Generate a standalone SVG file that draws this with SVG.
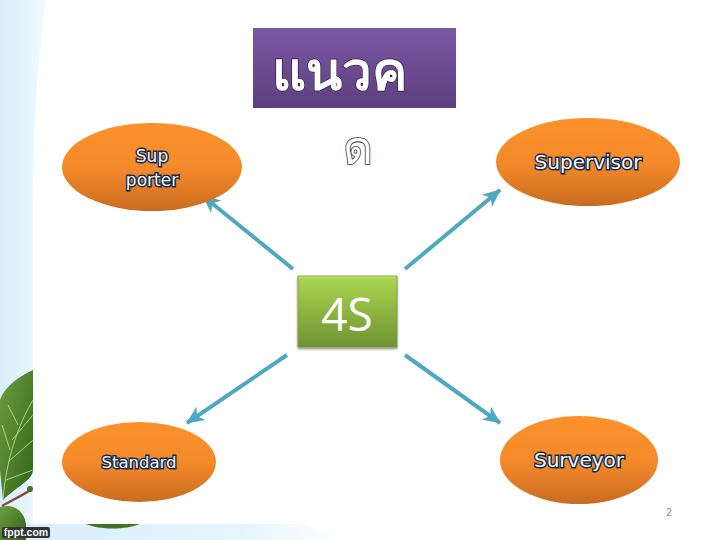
<svg xmlns="http://www.w3.org/2000/svg" width="720" height="540" viewBox="0 0 720 540">
<style>
.lbl{font-family:"DejaVu Sans","Liberation Sans",sans-serif;font-size:17px;fill:#f2f8fd;stroke:#10294d;stroke-width:2.8px;paint-order:stroke;text-anchor:middle}
.thai{font-family:"Noto Sans","DejaVu Sans","Liberation Sans",sans-serif;text-anchor:middle}
.arrow{stroke:#4fa8c2;stroke-width:4;fill:none;marker-end:url(#ah)}
.leaf{fill:url(#leafG)}
.vein{stroke:#b4cf86;stroke-width:1;fill:none}
</style>
<defs>
<linearGradient id="org" x1="0" y1="0" x2="0" y2="1"><stop offset="0" stop-color="#fc912c"/><stop offset=".5" stop-color="#f58a2a"/><stop offset="1" stop-color="#c96c20"/></linearGradient>
<linearGradient id="pur" x1="0" y1="0" x2="0" y2="1"><stop offset="0" stop-color="#7d58a5"/><stop offset="1" stop-color="#5c3f7e"/></linearGradient>
<linearGradient id="grn" x1="0" y1="0" x2="0" y2="1"><stop offset="0" stop-color="#cfe675"/><stop offset=".04" stop-color="#a9d44f"/><stop offset="1" stop-color="#6f9232"/></linearGradient>
<linearGradient id="sky" x1="0" y1="0" x2="1" y2="0"><stop offset="0" stop-color="#d6eefb"/><stop offset="1" stop-color="#f3fafe"/></linearGradient>
<linearGradient id="band" x1="0" y1="0" x2="1" y2="0"><stop offset="0" stop-color="#d6eefb"/><stop offset=".7" stop-color="#e6f5fc"/><stop offset="1" stop-color="#ffffff"/></linearGradient>
<linearGradient id="leafG" x1="0" y1="0" x2="1" y2="1"><stop offset="0" stop-color="#6f9c3f"/><stop offset="1" stop-color="#2f6418"/></linearGradient>
<filter id="sh" x="-10%" y="-10%" width="120%" height="125%"><feDropShadow dx="0" dy="1.5" stdDeviation="1.2" flood-color="#000" flood-opacity=".5"/></filter>
<marker id="ah" markerUnits="userSpaceOnUse" markerWidth="20" markerHeight="20" refX="17" refY="10" orient="auto"><path d="M0 2 L18 10 L0 18 L5 10 Z" fill="#4fa8c2"/></marker>
</defs>
<g id="background">
<rect width="720" height="540" fill="#ffffff"/>
<path d="M0 0H46C38 60 33 120 33 200V530H0Z" fill="url(#sky)"/>
<path d="M33 524H300C320 530 335 536 345 540H0V524Z" fill="url(#band)"/>
<path d="M33 370C15 378 3 390 0 400V470Q2 490 3 500C15 488 33 480 33 470Z" class="leaf"/>
<path d="M3 500C6 460 18 425 33 400M8 462L33 440M12 440L33 415M6 480L33 470M10 450L2 425M18 425L8 405" class="vein"/>
<path d="M0 507C12 503 24 510 26 524V540H0Z" class="leaf"/>
<path d="M2 506C12 500 22 496 30 490" stroke="#8a4a36" stroke-width="2.4" fill="none"/>
<circle cx="30" cy="489" r="3" fill="#4f6f28"/>
<path d="M86 524C100 530 125 530 140 524Z" fill="#3f7424"/>
<rect x="2" y="527" width="48" height="11" rx="2" fill="#333"/>
<text x="26" y="536" font-family="'Liberation Sans',sans-serif" font-size="10.5" font-weight="bold" fill="#fff" text-anchor="middle">fppt.com</text>
</g>
<g id="connectors">
<path class="arrow" d="M293 269L203 196"/>
<path class="arrow" d="M405 269L500 190"/>
<path class="arrow" d="M287 355L187 423"/>
<path class="arrow" d="M405 355L500 423"/>
</g>
<g id="title">
<rect x="253" y="28" width="203" height="80" fill="url(#pur)"/>
<text class="thai" x="339" y="90" font-size="53" font-weight="bold" fill="#ffffff" stroke="#1d1433" stroke-width="1.2" paint-order="stroke">แนวค</text>
<text class="thai" x="358" y="164" font-size="46" fill="#ffffff" stroke="#333" stroke-width="1.6" paint-order="stroke">ด</text>
</g>
<g id="supporter"><ellipse cx="152" cy="167" rx="90" ry="44" fill="url(#org)"/>
<text class="lbl" x="152" y="162">Sup</text><text class="lbl" x="152" y="186">porter</text></g>
<g id="supervisor"><ellipse cx="588" cy="162" rx="92" ry="44" fill="url(#org)"/>
<text class="lbl" x="588" y="169" style="font-size:20px">Supervisor</text></g>
<g id="standard"><ellipse cx="139" cy="462" rx="77" ry="40" fill="url(#org)"/>
<text class="lbl" x="139" y="468" style="font-size:16.5px">Standard</text></g>
<g id="surveyor"><ellipse cx="579" cy="460" rx="79" ry="44" fill="url(#org)"/>
<text class="lbl" x="579" y="467" style="font-size:20px">Surveyor</text></g>
<g id="center"><rect x="298" y="276" width="99" height="71" fill="url(#grn)" stroke="#7a9a3c" stroke-width=".8" filter="url(#sh)"/>
<text x="347" y="331" font-family="'Open Sans','Noto Sans',sans-serif" font-size="46" fill="#fff" text-anchor="middle">4S</text></g>
<text x="669" y="516" font-family="'Liberation Sans',sans-serif" font-size="10" fill="#888" text-anchor="middle">2</text>
</svg>
